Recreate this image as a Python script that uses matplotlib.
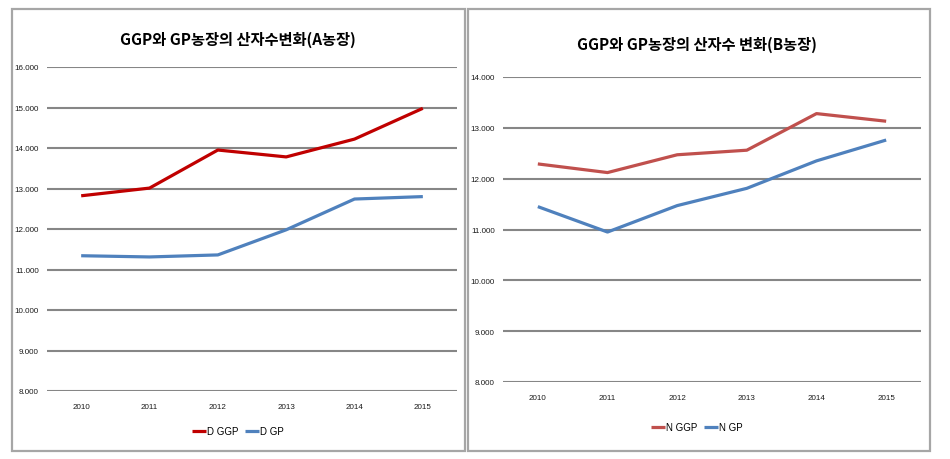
import matplotlib
matplotlib.use("Agg")
import matplotlib.pyplot as plt
from matplotlib.patches import Rectangle
from matplotlib.ticker import FuncFormatter

years = ["2010", "2011", "2012", "2013", "2014", "2015"]

# A농장
d_ggp = [12820, 13010, 13950, 13780, 14220, 14980]
d_gp = [11340, 11310, 11360, 11980, 12740, 12800]

# B농장
n_ggp = [12290, 12120, 12470, 12560, 13280, 13130]
n_gp = [11450, 10950, 11470, 11810, 12350, 12760]

title_a = "GGP와 GP농장의 산자수변화(A농장)"
title_b = "GGP와 GP농장의 산자수 변화(B농장)"

W, H = 950, 460
fig = plt.figure(figsize=(W / 100, H / 100), dpi=100)
fig.patch.set_facecolor("white")

tick_font = ["Liberation Sans", "DejaVu Sans"]
title_font = ["Noto Sans CJK KR", "DejaVu Sans"]


def fx(px):
    return px / W


def fy(py):
    return 1 - py / H


def thousands(v, pos):
    return f"{int(v):,}".replace(",", ".")


def panel(box, ax_box, title, title_xy, series, ylim, legend_y):
    # outer frame of each chart
    x0, y0, x1, y1 = box
    fig.patches.append(Rectangle((fx(x0), fy(y1)), fx(x1 - x0), (y1 - y0) / H,
                                 transform=fig.transFigure, fill=False,
                                 edgecolor="#a6a6a6", linewidth=1.6))
    l, t, r, b = ax_box
    ax = fig.add_axes([fx(l), fy(b), fx(r - l), (b - t) / H])
    x = range(len(years))
    handles = []
    for vals, color, label in series:
        h, = ax.plot(x, vals, color=color, linewidth=2.3, label=label,
                     solid_capstyle="butt", zorder=3)
        handles.append(h)
    ax.set_xlim(-0.5, len(years) - 0.5)
    ax.set_ylim(*ylim)
    ax.set_yticks(range(ylim[0], ylim[1] + 1, 1000))
    ax.yaxis.set_major_formatter(FuncFormatter(thousands))
    ax.set_xticks(list(x))
    ax.set_xticklabels(years)
    ax.grid(axis="y", color="#868686", linewidth=1.5)
    ax.set_axisbelow(True)
    for s in ax.spines.values():
        s.set_visible(False)
    ax.tick_params(length=0, labelsize=5.8, colors="#1a1a1a")
    ax.tick_params(axis="x", pad=9)
    ax.tick_params(axis="y", pad=6)
    for lab in ax.get_xticklabels() + ax.get_yticklabels():
        lab.set_family(tick_font)
    fig.text(fx(title_xy[0]), fy(title_xy[1]), title, ha="center", va="center",
             fontsize=11, fontweight="bold", family=title_font)
    fig.legend(handles=handles, loc="center",
               bbox_to_anchor=(fx(title_xy[0]), fy(legend_y)), ncol=2, frameon=False,
               handlelength=1.4, handletextpad=0.15, columnspacing=0.7,
               prop={"family": tick_font, "size": 7})
    return ax


panel((12, 10, 465, 452), (47, 68, 457, 392), title_a, (238, 40),
      [(d_ggp, "#c00000", "D GGP"), (d_gp, "#4f81bd", "D GP")],
      (8000, 16000), 432)
panel((468, 10, 930, 452), (503, 78, 921, 383), title_b, (697, 45),
      [(n_ggp, "#c0504d", "N GGP"), (n_gp, "#4f81bd", "N GP")],
      (8000, 14000), 428)

fig.savefig("out.png", dpi=100)
